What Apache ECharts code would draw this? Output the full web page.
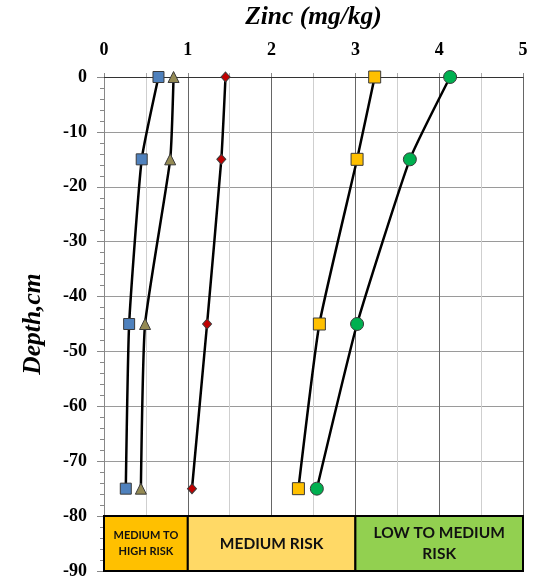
<!DOCTYPE html>
<html><head><meta charset="utf-8">
<script src="https://cdn.jsdelivr.net/npm/echarts@6/dist/echarts.min.js"></script>
<style>html,body{margin:0;padding:0;background:#fff}#c{width:543px;height:582px}</style>
</head><body><div id="c"></div>
<script>
const depths = [0, -15, -45, -75];
const seriesBlue = [0.65, 0.45, 0.30, 0.26];
const seriesOlive = [0.83, 0.79, 0.49, 0.44];
const seriesRed = [1.45, 1.40, 1.23, 1.05];
const seriesOrange = [3.23, 3.02, 2.57, 2.32];
const seriesGreen = [4.13, 3.65, 3.02, 2.54];
const xTicks = [0, 1, 2, 3, 4, 5];
const yTicks = [0, -10, -20, -30, -40, -50, -60, -70, -80, -90];
const zoneNames = ['MEDIUM TO\nHIGH RISK', 'MEDIUM RISK', 'LOW TO MEDIUM\nRISK'];
const zoneFrom = [0, 1, 3];
const zoneTo = [1, 3, 5];
const zoneTop = -80, zoneBottom = -90;
const zoneColors = ['#FFC000', '#FFD966', '#92D050'];
const zoneFont = [11, 15.5, 15.5];

const serif = '"Liberation Serif","Times New Roman",serif';
function pts(xs){ return xs.map((v,i)=>[v, depths[i]]); }
function mk(name, xs, symbol, size, color){
  return {
    name, type:'line', data: pts(xs), smooth:0.15,
    symbol, symbolSize:size, showAllSymbol:true, z:5,
    lineStyle:{color:'#000', width:2.5},
    itemStyle:{color, borderColor:'#3a3a3a', borderWidth:1},
    emphasis:{disabled:true}
  };
}
const chart = echarts.init(document.getElementById('c'), null, {renderer:'canvas'});
const series = [
  mk('Blue', seriesBlue, 'rect', 11, '#4F81BD'),
  mk('Olive', seriesOlive, 'triangle', 11, '#948A54'),
  mk('Red', seriesRed, 'diamond', [9,10], '#C00000'),
  mk('Orange', seriesOrange, 'rect', 12, '#FFC000'),
  mk('Green', seriesGreen, 'circle', 13, '#00B050')
];
series.push({
  type:'line', data:[], silent:true, z:3,
  markArea:{
    silent:true,
    data: zoneNames.map((n,i)=>[
      {name:n, coord:[zoneFrom[i], zoneTop],
       itemStyle:{color:zoneColors[i], borderColor:'#000', borderWidth:2},
       label:{show:true, position:'inside', formatter:n, fontFamily:'Lato,"Noto Sans",sans-serif',
              fontWeight:'bold', fontSize:zoneFont[i], color:'#111', lineHeight:zoneFont[i]*1.4, align:'center'}},
      {coord:[zoneTo[i], zoneBottom]}
    ])
  }
});
chart.setOption({
  animation:false,
  grid:{left:104, right:20, top:77, bottom:11, containLabel:false, outerBoundsMode:'none'},
  xAxis:{
    type:'value', position:'top', min:0, max:5, interval:1,
    name:'Zinc (mg/kg)', nameLocation:'middle', nameGap:47,
    nameTextStyle:{fontFamily:serif, fontWeight:'bold', fontStyle:'italic', fontSize:25.5, color:'#000'},
    axisLine:{show:true, onZero:false, lineStyle:{color:'#333', width:1}},
    axisTick:{show:true, length:4, inside:false, lineStyle:{color:'#888'}},
    minorTick:{show:true, splitNumber:2, length:4, lineStyle:{color:'#aaa'}},
    axisLabel:{fontFamily:serif, fontWeight:'bold', fontSize:18, color:'#000', margin:18,
               formatter:v=>xTicks.includes(v)?String(v):''},
    splitLine:{show:true, lineStyle:{color:'#666', width:1}},
    minorSplitLine:{show:true, lineStyle:{color:'#cfcfcf', width:1}}
  },
  yAxis:{
    type:'value', min:-90, max:0, interval:10,
    name:'Depth,cm', nameLocation:'middle', nameGap:58, nameRotate:90,
    nameTextStyle:{fontFamily:serif, fontWeight:'bold', fontStyle:'italic', fontSize:25.5, color:'#000'},
    axisLine:{show:true, onZero:false, lineStyle:{color:'#888', width:1}},
    axisTick:{show:true, length:7, lineStyle:{color:'#888'}},
    minorTick:{show:true, splitNumber:5, length:4, lineStyle:{color:'#888'}},
    axisLabel:{fontFamily:serif, fontWeight:'bold', fontSize:18, color:'#000', margin:17,
               formatter:v=>yTicks.includes(v)?String(v):''},
    splitLine:{show:true, lineStyle:{color:'#9a9a9a', width:1}}
  },
  series
});
</script></body></html>
